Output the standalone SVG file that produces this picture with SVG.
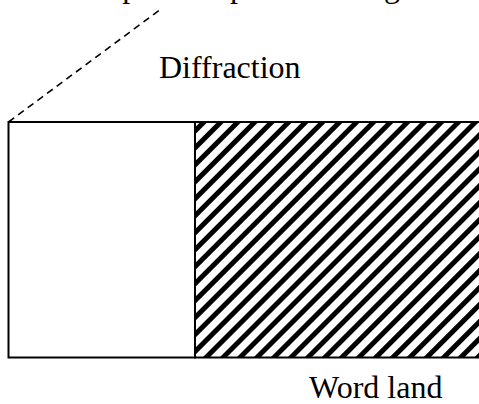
<svg xmlns="http://www.w3.org/2000/svg" width="479" height="404" viewBox="0 0 479 404">
  <style>
    .lbl { font-family: "Liberation Serif", "Times New Roman", serif; font-size: 32px; fill: #000; }
    .edge { fill: none; stroke: #000; stroke-width: 1.6; stroke-dasharray: 7 5; }
    .box { stroke: #000; stroke-width: 2; }
  </style>
  <defs>
    <pattern id="hatch" patternUnits="userSpaceOnUse" width="12" height="12" patternTransform="rotate(45)">
      <rect x="0" y="0" width="12" height="12" fill="#fff"/>
      <rect x="0" y="0" width="5" height="12" fill="#000"/>
    </pattern>
  </defs>
  <rect width="479" height="404" fill="#fff"/>

  <text class="lbl" y="-3"><tspan x="-3">Incident spot at a</tspan><tspan x="230">probe of a</tspan><tspan x="384">grid</tspan></text>

  <g id="connectors">
    <line class="edge" x1="8.5" y1="122" x2="161" y2="9"/>
  </g>

  <g id="land">
    <rect class="box" x="8.5" y="122" width="186.5" height="235.5" fill="#fff"/>
  </g>
  <g id="groove">
    <rect class="box" x="195" y="122" width="300" height="235.5" fill="url(#hatch)"/>
  </g>

  <g id="label-diffraction">
    <text class="lbl" x="159" y="78">Diffraction</text>
  </g>
  <g id="label-word-land">
    <text class="lbl" x="309" y="398">Word land</text>
  </g>
</svg>
